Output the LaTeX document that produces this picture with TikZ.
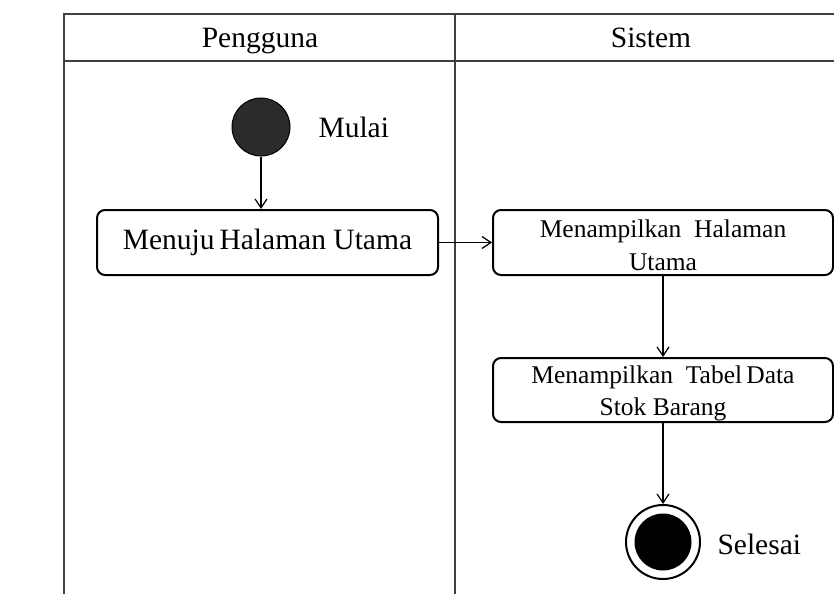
\documentclass[tikz,border=0pt]{standalone}
\usepackage{fontspec}
\setmainfont{Liberation Serif}
\usetikzlibrary{arrows.meta}
\begin{document}
\begin{tikzpicture}[x=1pt,y=-1pt,
  lane/.style={draw=black!75,line width=1.6pt},
  actbox/.style={draw,line width=2pt,rounded corners=8pt,inner sep=0pt},
  flow/.style={draw,line width=1.2pt,-{Straight Barb[length=9pt,width=12pt,line width=1.2pt]}},
  big/.style={font=\fontsize{29.5}{33}\selectfont},
  small/.style={font=\fontsize{25.5}{32.5}\selectfont,align=center}]
\useasboundingbox (0,0) rectangle (834,594);
% swimlanes
\coordinate (tl) at (64,14);
\coordinate (tr) at (834,14);
\coordinate (hl) at (64,61);
\coordinate (hr) at (834,61);
\coordinate (bl) at (64,594);
\coordinate (mt) at (455,14);
\coordinate (mb) at (455,594);
\draw[lane] (tr) -- (tl) -- (bl);
\draw[lane] (hl) -- (hr);
\draw[lane] (mt) -- (mb);
\node[big,anchor=base] (h1) at (260,48) {Pengguna};
\node[big,anchor=base] (h2) at (651,48) {Sistem};
% start
\node[circle,draw,fill=black!83,minimum size=58pt,inner sep=0pt,line width=1pt] (start) at (261,127) {};
\node[big,anchor=west] (mulai) at (315,127) {Mulai};
% boxes
\node[actbox,big,minimum width=341pt,minimum height=65pt] (b1) at (267.5,242.5) {Menuju\,Halaman\ Utama};
\node[actbox,minimum width=340pt,minimum height=65pt] (b2) at (663,242.5) {};
\node[small] (b2t) at ([yshift=-3pt]b2.center) {Menampilkan\ \ Halaman\\Utama};
\node[actbox,minimum width=340pt,minimum height=64pt] (b3) at (663,390) {};
\node[small] (b3t) at ([yshift=-3.5pt]b3.center) {Menampilkan\ \ Tabel\,Data\\Stok Barang};
% end
\node[circle,draw,line width=2pt,minimum size=74pt,inner sep=0pt] (end) at (663,542) {};
\node[circle,fill=black,minimum size=57pt,inner sep=0pt] (endin) at (end.center) {};
\node[big,anchor=west] (selesai) at (714,544) {Selesai};
% flows
\draw[flow] (start) -- (b1.north -| start);
\draw[flow] (b1) -- (b2);
\draw[flow] (b2) -- (b3);
\draw[flow] (b3) -- (end);
\end{tikzpicture}
\end{document}
